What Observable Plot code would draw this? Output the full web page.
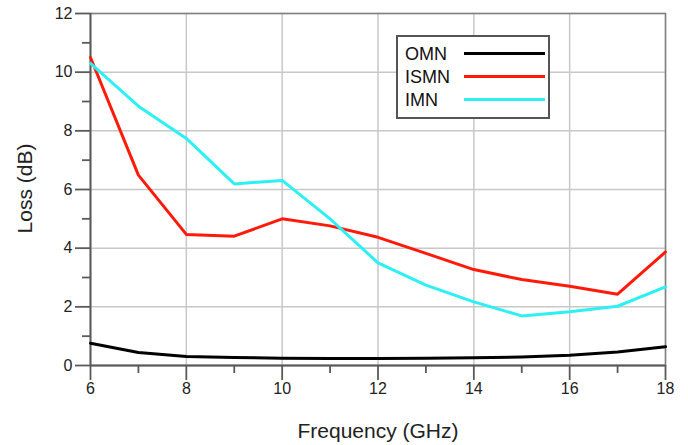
<!DOCTYPE html>
<html>
<head>
<meta charset="utf-8">
<script src="https://cdn.jsdelivr.net/npm/d3@7"></script>
<script src="https://cdn.jsdelivr.net/npm/@observablehq/plot@0.6"></script>
<style>
  html, body { margin: 0; padding: 0; background: #fff; }
  #wrap { position: relative; width: 688px; height: 445px; font-family: "Liberation Sans", Arial, sans-serif; }
  #legend { position: absolute; left: 396px; top: 35px; width: 150px; height: 80px; border: 2px solid #555; background: #fff; }
  #legend .row { position: absolute; left: 7px; font-size: 18px; color: #111; line-height: 18px; }
  #legend .sw { position: absolute; left: 66px; width: 81px; height: 3px; }
</style>
</head>
<body>
<div id="wrap"></div>
<script>
const freq = [6, 7, 8, 9, 10, 11, 12, 13, 14, 15, 16, 17, 18];
const omn  = [0.76, 0.44, 0.31, 0.27, 0.25, 0.24, 0.24, 0.25, 0.26, 0.29, 0.35, 0.46, 0.64];
const ismn = [10.5, 6.49, 4.47, 4.41, 5.0, 4.76, 4.37, 3.82, 3.27, 2.93, 2.7, 2.43, 3.87];
const imn  = [10.3, 8.84, 7.74, 6.19, 6.31, 5.0, 3.5, 2.74, 2.17, 1.69, 1.83, 2.02, 2.68];
const seriesNames = ["OMN", "ISMN", "IMN"];
const seriesColors = ["#000000", "#ff1a0a", "#2cf0f4"];
const xMajor = [6, 8, 10, 12, 14, 16, 18];
const xMinor = [7, 9, 11, 13, 15, 17];
const yMajor = [0, 2, 4, 6, 8, 10, 12];
const yMinor = [1, 3, 5, 7, 9, 11];

const seriesValues = [omn, ismn, imn];
const data = [];
seriesNames.forEach((name, i) => {
  freq.forEach((f, j) => data.push({series: name, f, v: seriesValues[i][j]}));
});

const axisStroke = "#5a5a5a";
const chart = Plot.plot({
  width: 688,
  height: 445,
  marginLeft: 90,
  marginRight: 23,
  marginTop: 13,
  marginBottom: 80,
  style: {fontFamily: "Liberation Sans, Arial, sans-serif", background: "#fff"},
  x: {domain: [6, 18], axis: null},
  y: {domain: [0, 12], axis: null},
  color: {domain: seriesNames, range: seriesColors},
  marks: [
    Plot.gridX(xMajor, {stroke: "#c8c8c8", strokeOpacity: 1, strokeWidth: 1.5}),
    Plot.gridY(yMajor, {stroke: "#c8c8c8", strokeOpacity: 1, strokeWidth: 1.5}),
    Plot.frame({stroke: "#808080", strokeWidth: 1.5}),
    Plot.ruleX([6], {stroke: axisStroke, strokeWidth: 1.8}),
    Plot.ruleY([0], {stroke: axisStroke, strokeWidth: 1.8}),
    Plot.axisX(xMajor, {anchor: "bottom", tickSize: 15, text: null, stroke: axisStroke, strokeWidth: 1.8, label: null}),
    Plot.axisX(xMinor, {anchor: "bottom", tickSize: 8, text: null, stroke: axisStroke, strokeWidth: 1.8, label: null}),
    Plot.axisY(yMajor, {anchor: "left", tickSize: 15, text: null, stroke: axisStroke, strokeWidth: 1.8, label: null}),
    Plot.axisY(yMinor, {anchor: "left", tickSize: 8, text: null, stroke: axisStroke, strokeWidth: 1.8, label: null}),
    Plot.line(data, {x: "f", y: "v", z: "series", stroke: "series", strokeWidth: 3, curve: "linear"}),
    Plot.text(xMajor, {x: d => d, frameAnchor: "bottom", dy: 28, fontSize: 16, fill: "#222", text: d => String(d)}),
    Plot.text(yMajor, {y: d => d, frameAnchor: "left", textAnchor: "end", dx: -18, fontSize: 16, fill: "#222", text: d => String(d)}),
    Plot.text(["Frequency (GHz)"], {frameAnchor: "bottom", dy: 72, fontSize: 21, fill: "#222", text: d => d}),
    Plot.text(["Loss (dB)"], {frameAnchor: "left", textAnchor: "middle", dx: -65, dy: -1, rotate: -90, fontSize: 21, fill: "#222", text: d => d})
  ]
});

const wrap = document.getElementById("wrap");
wrap.appendChild(chart);

const legend = document.createElement("div");
legend.id = "legend";
seriesNames.forEach((name, i) => {
  const row = document.createElement("div");
  row.className = "row";
  row.style.top = (8 + i * 23) + "px";
  row.textContent = name;
  legend.appendChild(row);
  const sw = document.createElement("div");
  sw.className = "sw";
  sw.style.top = (15 + i * 23) + "px";
  sw.style.background = seriesColors[i];
  legend.appendChild(sw);
});
wrap.appendChild(legend);
</script>
</body>
</html>
